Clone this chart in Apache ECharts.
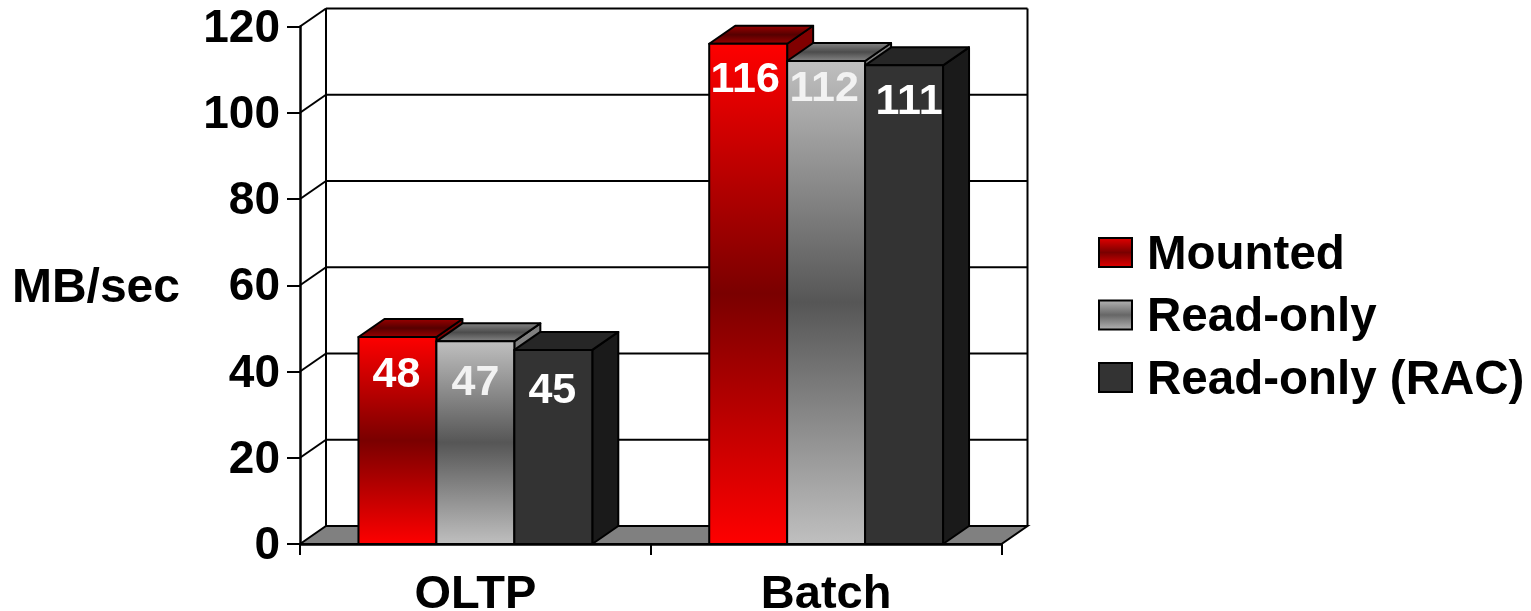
<!DOCTYPE html>
<html>
<head>
<meta charset="utf-8">
<title>MB/sec by workload</title>
<script src="https://cdn.jsdelivr.net/npm/echarts@6/dist/echarts.min.js"></script>
<style>
  html, body { margin: 0; padding: 0; background: #fff; }
  #chart { width: 1531px; height: 611px; }
</style>
</head>
<body>
<div id="chart"></div>
<script>
// Throughput per workload
const categories = ['OLTP', 'Batch'];
const seriesNames = ['Mounted', 'Read-only', 'Read-only (RAC)'];
const mounted = [48, 116];
const readOnly = [47, 112];
const readOnlyRac = [45, 111];
const valueTicks = [0, 20, 40, 60, 80, 100, 120];

// Oblique projection of the box: how far the back plane sits from the front plane
const DEPTH_X = 26;
const DEPTH_Y = 18;
const FONT = '"Liberation Sans", Arial, sans-serif';

// Hand placement of the value labels: [shift right, drop below bar top], one row per series
const labelPlacement = [
  [[-1, 38], [-3, 36]],
  [[0, 42], [-2, 28]],
  [[-1, 41], [5, 37]]
];

const vertical = stops => new echarts.graphic.LinearGradient(0, 0, 0, 1,
  stops.map((color, i) => ({ offset: i / (stops.length - 1), color })));

const skins = [
  {
    front: vertical(['#ff0000', '#7a0000', '#ff0000']),
    top: vertical(['#a00000', '#560000', '#a00000']),
    side: '#800000', label: '#ffffff',
    legend: vertical(['#e80000', '#7a0000', '#e80000'])
  },
  {
    front: vertical(['#c0c0c0', '#565656', '#c0c0c0']),
    top: vertical(['#8a8a8a', '#4c4c4c', '#8a8a8a']),
    side: '#808080', label: '#f2f2f2',
    legend: vertical(['#b8b8b8', '#666666', '#b8b8b8'])
  },
  {
    front: '#333333', top: '#262626', side: '#1a1a1a', label: '#ffffff',
    legend: '#333333'
  }
];

const edge = { stroke: '#000', lineWidth: 2, lineJoin: 'round' };

// One 3D bar: side and top faces behind the gradient front, value label on top
function barRenderer(seriesIndex) {
  return function (params, api) {
    const catIndex = api.value(0);
    const value = api.value(1);
    const base = api.coord([catIndex, 0]);
    const head = api.coord([catIndex, value]);
    const width = api.size([1, 0])[0] * 2 / 9;
    const x0 = base[0] + (seriesIndex - 1.5) * width;
    const x1 = x0 + width;
    const yTop = head[1];
    const yBase = base[1];
    const skin = skins[seriesIndex];
    const place = labelPlacement[seriesIndex][catIndex];
    return {
      type: 'group',
      children: [
        {
          type: 'polygon',
          shape: { points: [[x1, yTop], [x1 + DEPTH_X, yTop - DEPTH_Y], [x1 + DEPTH_X, yBase - DEPTH_Y], [x1, yBase]] },
          style: Object.assign({ fill: skin.side }, edge)
        },
        {
          type: 'polygon',
          shape: { points: [[x0, yTop], [x0 + DEPTH_X, yTop - DEPTH_Y], [x1 + DEPTH_X, yTop - DEPTH_Y], [x1, yTop]] },
          style: Object.assign({ fill: skin.top }, edge)
        },
        {
          type: 'rect',
          shape: { x: x0, y: yTop, width: width, height: yBase - yTop },
          style: Object.assign({ fill: skin.front }, edge)
        },
        {
          type: 'text',
          style: {
            text: String(value),
            x: (x0 + x1) / 2 + place[0],
            y: yTop + place[1],
            fill: skin.label,
            fontFamily: FONT,
            fontWeight: 'bold',
            fontSize: 43,
            align: 'center',
            verticalAlign: 'middle'
          }
        }
      ]
    };
  };
}

// Chart box: back-wall gridline and its slanted return for each tick, floor and walls at zero
function frameRenderer(params, api) {
  const tick = api.value(1);
  const box = params.coordSys;
  const y = api.coord([0, tick])[1];
  const left = box.x;
  const right = box.x + box.width;
  const line = { stroke: '#000', lineWidth: 2 };
  const children = [];
  if (tick === 0) {
    const yTop = api.coord([0, valueTicks[valueTicks.length - 1]])[1];
    children.push(
      {
        type: 'polygon',
        shape: { points: [[left, y], [left + DEPTH_X, y - DEPTH_Y], [right + DEPTH_X, y - DEPTH_Y], [right, y]] },
        style: { fill: '#808080', stroke: '#000', lineWidth: 2 }
      },
      {
        type: 'line',
        shape: { x1: left + DEPTH_X, y1: yTop - DEPTH_Y, x2: left + DEPTH_X, y2: y - DEPTH_Y },
        style: line
      },
      {
        type: 'line',
        shape: { x1: right + DEPTH_X, y1: yTop - DEPTH_Y, x2: right + DEPTH_X, y2: y - DEPTH_Y },
        style: line
      }
    );
  } else {
    children.push(
      {
        type: 'line',
        shape: { x1: left, y1: y, x2: left + DEPTH_X, y2: y - DEPTH_Y },
        style: line
      },
      {
        type: 'line',
        shape: { x1: left + DEPTH_X, y1: y - DEPTH_Y, x2: right + DEPTH_X, y2: y - DEPTH_Y },
        style: line
      }
    );
  }
  return { type: 'group', children };
}

const barSeries = [mounted, readOnly, readOnlyRac].map((values, i) => ({
  type: 'custom',
  name: seriesNames[i],
  renderItem: barRenderer(i),
  encode: { x: 0, y: 1 },
  data: values.map((v, c) => [c, v]),
  itemStyle: { color: skins[i].legend },
  z: 3 + i,
  silent: true
}));

const chart = echarts.init(document.getElementById('chart'));
chart.setOption({
  animation: false,
  backgroundColor: '#ffffff',
  grid: { left: 300, top: 26.5, width: 701.5, height: 517.5, outerBoundsMode: 'none' },
  legend: {
    orient: 'vertical',
    left: 1098,
    top: 231.5,
    padding: 0,
    icon: 'rect',
    itemWidth: 33,
    itemHeight: 29,
    itemGap: 14.5,
    formatter: name => `{entry|${name}}`,
    textStyle: {
      color: '#000',
      rich: {
        entry: {
          fontFamily: FONT, fontWeight: 'bold', fontSize: 47.5, color: '#000',
          padding: [6, 0, 0, 10]
        }
      }
    },
    data: seriesNames.map((name, i) => ({
      name,
      itemStyle: { color: skins[i].legend, borderColor: '#000', borderWidth: 2 }
    })),
    selectedMode: false
  },
  xAxis: {
    type: 'category',
    data: categories,
    z: 6,
    axisLine: { lineStyle: { color: '#000', width: 2.5 } },
    axisTick: { show: true, alignWithLabel: false, length: 11, lineStyle: { color: '#000', width: 2 } },
    axisLabel: { fontFamily: FONT, fontWeight: 'bold', fontSize: 47, color: '#000', margin: 28 }
  },
  yAxis: {
    type: 'value',
    min: 0,
    max: 120,
    interval: 20,
    z: 6,
    name: 'MB/sec',
    nameLocation: 'middle',
    nameRotate: 0,
    nameGap: 120,
    nameTextStyle: {
      fontFamily: FONT, fontWeight: 'bold', fontSize: 48, color: '#000',
      verticalAlign: 'top', lineHeight: 8
    },
    axisLine: { show: true, lineStyle: { color: '#000', width: 2.5 } },
    axisTick: { show: true, length: 13, lineStyle: { color: '#000', width: 2 } },
    splitLine: { show: false },
    axisLabel: {
      fontFamily: FONT, fontWeight: 'bold', fontSize: 46, color: '#000', margin: 20,
      verticalAlign: 'top', lineHeight: 5
    }
  },
  series: [
    {
      type: 'custom',
      renderItem: frameRenderer,
      encode: { x: 0, y: 1 },
      data: valueTicks.map(v => [0, v]),
      z: 1,
      silent: true
    }
  ].concat(barSeries)
});
</script>
</body>
</html>
